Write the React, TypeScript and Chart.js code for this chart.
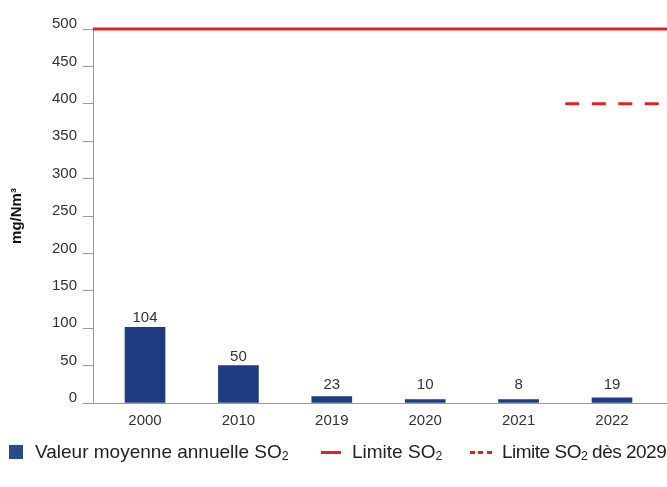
import React, { useEffect, useRef } from 'react';
import { Chart, registerables } from 'chart.js';

Chart.register(...registerables);

// ---- data ----
const years: string[] = ['2000', '2010', '2019', '2020', '2021', '2022'];
const barValues: number[] = [101, 50, 8.5, 4.5, 4.5, 7];
const barLabels: string[] = ['104', '50', '23', '10', '8', '19'];
const limitValue = 500;
const futureLimitValue = 400;
const futureLimitYears: string[] = ['2022'];
const yMax = 500;
const yStep = 50;
const yTitle = 'mg/Nm³';

const FONT = "'Liberation Sans', Arial, sans-serif";
const BLUE = '#1f3c82';
const RED = '#e3221d';
const AXIS = '#9a9a9a';
const TEXT = '#333333';

export default function App() {
  const ref = useRef<HTMLCanvasElement | null>(null);

  useEffect(() => {
    document.body.style.margin = '0';
    const canvas = ref.current;
    if (!canvas) return;

    const futurePoints: { x: number; y: number }[] = [];
    futureLimitYears.forEach((yr) => {
      const i = years.indexOf(yr);
      futurePoints.push({ x: i - 0.5, y: futureLimitValue });
      futurePoints.push({ x: i + 0.5, y: futureLimitValue });
    });

    const extrasPlugin = {
      id: 'extras',
      afterDatasetsDraw(chart: any) {
        const { ctx, chartArea, scales } = chart;
        const y = scales.y;
        // solid limit line
        const ly = y.getPixelForValue(limitValue);
        ctx.save();
        ctx.strokeStyle = RED;
        ctx.lineWidth = 3;
        ctx.beginPath();
        ctx.moveTo(chartArea.left, ly);
        ctx.lineTo(chartArea.right, ly);
        ctx.stroke();
        // bar value labels
        const meta = chart.getDatasetMeta(0);
        const zero = y.getPixelForValue(0);
        ctx.font = `15px ${FONT}`;
        ctx.fillStyle = TEXT;
        ctx.textAlign = 'center';
        ctx.textBaseline = 'alphabetic';
        meta.data.forEach((el: any, i: number) => {
          const ty = Math.min(el.y - 5, zero - 14);
          ctx.fillText(barLabels[i], el.x, ty);
        });
        // y title
        ctx.font = `bold 15px ${FONT}`;
        ctx.fillStyle = '#111';
        ctx.translate(17, (chartArea.top + chartArea.bottom) / 2);
        ctx.rotate(-Math.PI / 2);
        ctx.textBaseline = 'middle';
        ctx.fillText(yTitle, 0, 0);
        ctx.restore();
      },
    };

    const chart = new Chart(canvas, {
      type: 'bar',
      data: {
        datasets: [
          {
            type: 'bar',
            label: 'Valeur moyenne annuelle SO₂',
            data: barValues.map((v, i) => ({ x: i, y: v })),
            backgroundColor: BLUE,
            barThickness: 40,
          } as any,
          {
            type: 'line',
            label: 'Limite SO₂ dès 2029',
            data: futurePoints,
            borderColor: RED,
            borderWidth: 3,
            borderDash: [14, 12.5],
            pointRadius: 0,
            fill: false,
          } as any,
        ],
      },
      options: {
        animation: false,
        responsive: false,
        maintainAspectRatio: false,
        layout: { padding: { top: 29, right: 0, bottom: 0, left: 0 } },
        plugins: {
          legend: { display: false },
          tooltip: { enabled: false },
        },
        scales: {
          x: {
            type: 'linear',
            offset: false,
            bounds: 'ticks',
            min: -0.557,
            max: 5.589,
            afterBuildTicks: (s: any) => {
              s.ticks = years.map((_, i) => ({ value: i }));
            },
            afterFit: (s: any) => {
              s.height = 84;
            },
            ticks: {
              autoSkip: false,
              maxRotation: 0,
              padding: 9,
              color: TEXT,
              font: { family: FONT, size: 15 },
              callback: (v: any) => years[v as number] ?? '',
            },
            grid: { display: false, drawTicks: false, offset: false },
            border: { display: true, color: AXIS, width: 1 },
          },
          y: {
            min: 0,
            max: yMax,
            afterFit: (s: any) => {
              s.width = 93;
            },
            ticks: {
              stepSize: yStep,
              padding: 6,
              labelOffset: -5,
              color: TEXT,
              font: { family: FONT, size: 15 },
            },
            grid: {
              drawOnChartArea: false,
              drawTicks: true,
              tickLength: 10,
              color: AXIS,
            },
            border: { display: true, color: AXIS, width: 1 },
          },
        },
      } as any,
      plugins: [extrasPlugin],
    });

    return () => chart.destroy();
  }, []);

  const textStyle: React.CSSProperties = {
    position: 'absolute',
    top: 0,
    fontFamily: FONT,
    fontSize: 19,
    color: '#222',
    whiteSpace: 'nowrap',
    lineHeight: '20px',
  };
  const sub: React.CSSProperties = { fontSize: '0.65em', verticalAlign: '-0.15em' };

  return (
    <div style={{ position: 'relative', width: 667, height: 487 }}>
      <canvas ref={ref} width={667} height={487} style={{ display: 'block' }} />
      <div style={{ position: 'absolute', left: 0, top: 442, width: 667, height: 22 }}>
        <div style={{ position: 'absolute', left: 9, top: 3, width: 14, height: 14, background: '#2b4a8b' }} />
        <span style={{ ...textStyle, left: 35 }}>
          Valeur moyenne annuelle SO<span style={sub}>2</span>
        </span>
        <div style={{ position: 'absolute', left: 321, top: 9, width: 20, height: 3, background: RED }} />
        <span style={{ ...textStyle, left: 352 }}>
          Limite SO<span style={sub}>2</span>
        </span>
        <div
          style={{
            position: 'absolute',
            left: 470,
            top: 9,
            width: 22,
            height: 3,
            background: `repeating-linear-gradient(to right, ${RED} 0 5px, transparent 5px 8.5px)`,
          }}
        />
        <span style={{ ...textStyle, left: 502, letterSpacing: '-0.5px' }}>
          Limite SO<span style={sub}>2</span> dès 2029
        </span>
      </div>
    </div>
  );
}
